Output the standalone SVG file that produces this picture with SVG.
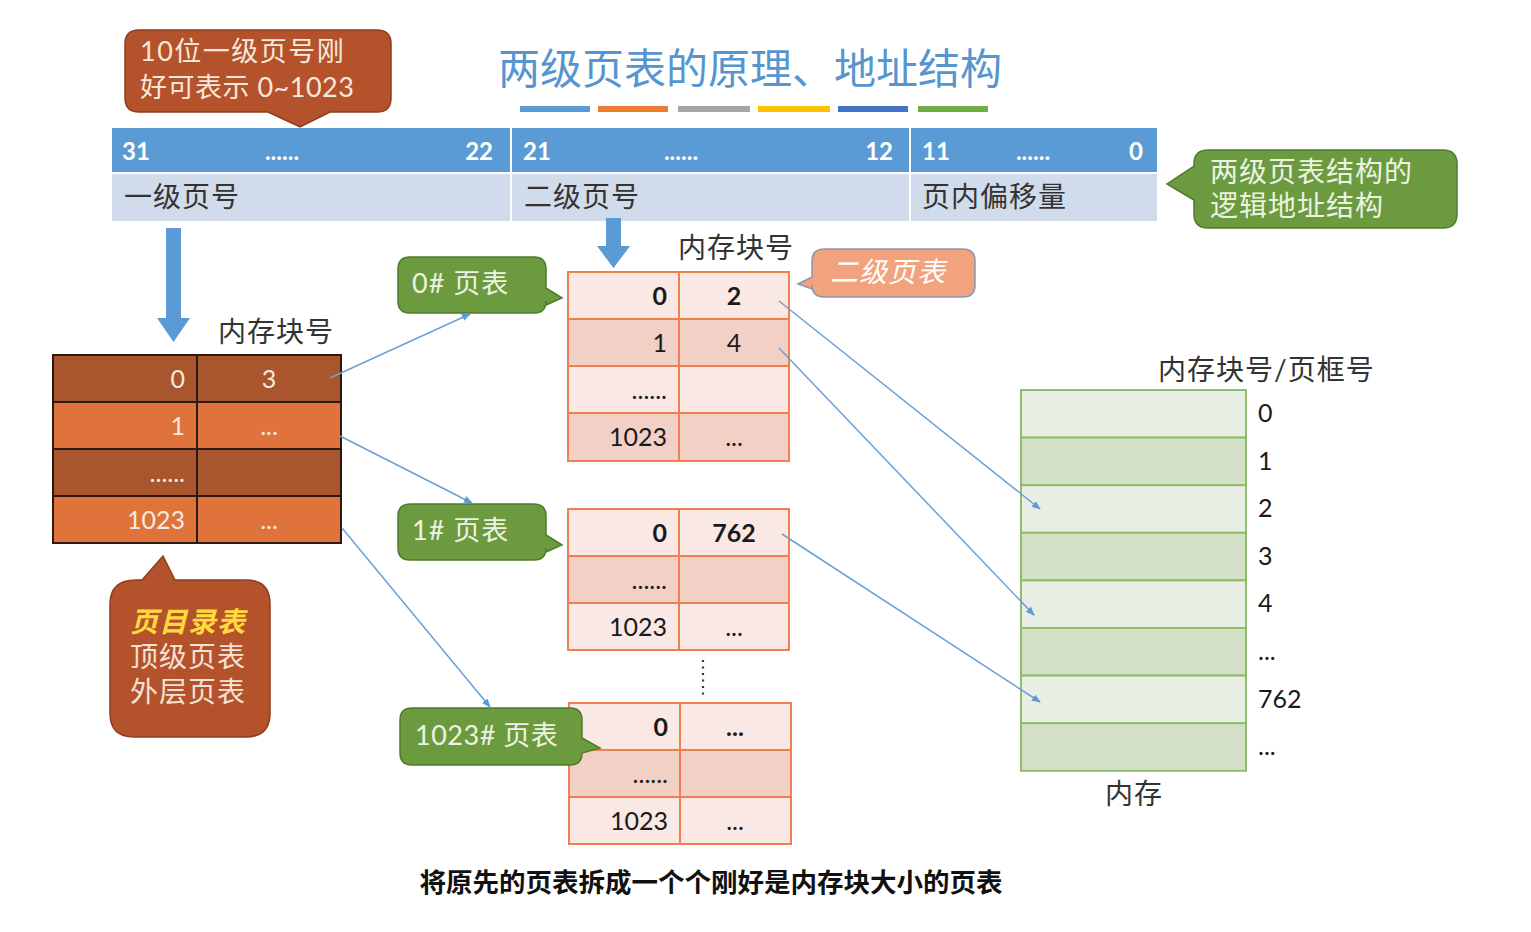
<svg xmlns="http://www.w3.org/2000/svg" width="1531" height="932" viewBox="0 0 1531 932">
<defs>
<style>
.cn{font-family:Lato,"Noto Sans CJK SC",sans-serif;}
.t28{font-size:28px;letter-spacing:1px;}
.num{font-family:Lato,"Noto Sans CJK SC",sans-serif;font-size:25px;}
.hdr{font-family:Lato,"Noto Sans CJK SC",sans-serif;font-size:24px;font-weight:700;fill:#ffffff;}
.lbl{fill:#333333;}
.pd1{fill:#a9552d;stroke:#2b1a10;stroke-width:2;}
.pd2{fill:#e0733b;stroke:#2b1a10;stroke-width:2;}
.pdt{fill:#f6e9df;}
.st1{fill:#f9e8e4;stroke:#f08050;stroke-width:2;}
.st2{fill:#f3d0c6;stroke:#f08050;stroke-width:2;}
.m1{fill:#e9eee4;stroke:#8fbd6b;stroke-width:2;}
.m2{fill:#d5e0c9;stroke:#8fbd6b;stroke-width:2;}
.gbox{fill:#6b9b3e;stroke:#527a2e;stroke-width:1.5;}
.gtxt{fill:#edf3e4;}
.conn{stroke:#6aa0d6;stroke-width:1.5;fill:none;marker-end:url(#ah);}
.dark{fill:#1a1a1a;}
</style>
<marker id="ah" viewBox="0 0 10 10" refX="9" refY="5" markerWidth="9" markerHeight="9" orient="auto" markerUnits="userSpaceOnUse">
<path d="M0,1 L10,5 L0,9 Z" fill="#5b9bd5"/>
</marker>
</defs>
<rect width="1531" height="932" fill="#ffffff"/>

<g id="title">
<text x="750" y="84" text-anchor="middle" class="cn" font-size="42" fill="#5595d0">两级页表的原理、地址结构</text>
<rect x="520" y="106" width="70" height="6" fill="#5b9bd5"/>
<rect x="598" y="106" width="70" height="6" fill="#ed7d31"/>
<rect x="678" y="106" width="72" height="6" fill="#a5a5a5"/>
<rect x="758" y="106" width="72" height="6" fill="#ffc000"/>
<rect x="838" y="106" width="70" height="6" fill="#4472c4"/>
<rect x="918" y="106" width="70" height="6" fill="#70ad47"/>
</g>

<g id="callout-10bit">
<path d="M139,30 H377 Q391,30 391,44 V98 Q391,112 377,112 H330 L300,127 L268,112 H139 Q125,112 125,98 V44 Q125,30 139,30 Z" fill="#b4522b" stroke="#8e3d1e" stroke-width="1.5"/>
<text x="140" y="61" class="cn" font-size="27" letter-spacing="1.5" fill="#f7e8dc">10位一级页号刚</text>
<text x="140" y="97" class="cn" font-size="27" letter-spacing="0.5" fill="#f7e8dc">好可表示 0~1023</text>
</g>

<g id="address-structure">
<rect x="112" y="128" width="1045" height="44" fill="#5b9bd5"/>
<rect x="112" y="174" width="1045" height="47" fill="#d0dbec"/>
<line x1="511" y1="128" x2="511" y2="221" stroke="#ffffff" stroke-width="2"/>
<line x1="910" y1="128" x2="910" y2="221" stroke="#ffffff" stroke-width="2"/>
<line x1="112" y1="173" x2="1157" y2="173" stroke="#ffffff" stroke-width="2"/>
<text x="122" y="160" class="hdr">31</text>
<text x="282" y="160" class="hdr" text-anchor="middle">......</text>
<text x="493" y="160" class="hdr" text-anchor="end">22</text>
<text x="523" y="160" class="hdr">21</text>
<text x="681" y="160" class="hdr" text-anchor="middle">......</text>
<text x="893" y="160" class="hdr" text-anchor="end">12</text>
<text x="922" y="160" class="hdr">11</text>
<text x="1033" y="160" class="hdr" text-anchor="middle">......</text>
<text x="1143" y="160" class="hdr" text-anchor="end">0</text>
<text x="124" y="207" class="cn t28 lbl">一级页号</text>
<text x="524" y="207" class="cn t28 lbl">二级页号</text>
<text x="922" y="207" class="cn t28 lbl">页内偏移量</text>
</g>

<g id="callout-logical">
<path d="M1208,150 H1443 Q1457,150 1457,164 V214 Q1457,228 1443,228 H1208 Q1194,228 1194,214 V200 L1167,184 L1194,166 V164 Q1194,150 1208,150 Z" class="gbox"/>
<text x="1210" y="182" class="cn t28 gtxt">两级页表结构的</text>
<text x="1210" y="216" class="cn t28 gtxt">逻辑地址结构</text>
</g>

<g id="arrow-first">
<path d="M166,228 H181 V318 H190 L173.5,342 L157,318 H166 Z" fill="#5b9bd5"/>
</g>
<g id="arrow-second">
<path d="M606,218 H621 V246 H630 L613.5,268 L597,246 H606 Z" fill="#5b9bd5"/>
</g>

<g id="page-directory">
<text x="218" y="342" class="cn t28 lbl">内存块号</text>
<rect x="53" y="355" width="144" height="47" class="pd1"/>
<rect x="197" y="355" width="144" height="47" class="pd1"/>
<rect x="53" y="402" width="144" height="47" class="pd2"/>
<rect x="197" y="402" width="144" height="47" class="pd2"/>
<rect x="53" y="449" width="144" height="47" class="pd1"/>
<rect x="197" y="449" width="144" height="47" class="pd1"/>
<rect x="53" y="496" width="144" height="47" class="pd2"/>
<rect x="197" y="496" width="144" height="47" class="pd2"/>
<text x="185" y="388" class="num pdt" text-anchor="end">0</text>
<text x="269" y="388" class="num pdt" text-anchor="middle">3</text>
<text x="185" y="435" class="num pdt" text-anchor="end">1</text>
<text x="269" y="435" class="num pdt" text-anchor="middle">...</text>
<text x="185" y="482" class="num pdt" text-anchor="end">......</text>
<text x="185" y="529" class="num pdt" text-anchor="end">1023</text>
<text x="269" y="529" class="num pdt" text-anchor="middle">...</text>
</g>

<g id="callout-directory">
<path d="M136,580 H142 L163,556 L175,580 H246 Q270,580 270,604 V713 Q270,737 246,737 H134 Q110,737 110,713 V604 Q110,580 136,580 Z" fill="#b4522b" stroke="#8e3d1e" stroke-width="1.5"/>
<text x="130" y="632" class="cn t28" font-style="italic" font-weight="700" fill="#ffd93d">页目录表</text>
<text x="130" y="667" class="cn t28" fill="#f4e2d6">顶级页表</text>
<text x="130" y="702" class="cn t28" fill="#f4e2d6">外层页表</text>
</g>

<g id="label-pt0">
<path d="M410,257 H534 Q546,257 546,269 V288 L562,298 L546,305 V301 Q546,313 534,313 H410 Q398,313 398,301 V269 Q398,257 410,257 Z" class="gbox"/>
<text x="412" y="293" class="cn" font-size="27" letter-spacing="1" fill="#edf3e4">0# 页表</text>
</g>
<g id="label-pt1">
<path d="M410,504 H534 Q546,504 546,516 V535 L562,545 L546,552 V548 Q546,560 534,560 H410 Q398,560 398,548 V516 Q398,504 410,504 Z" class="gbox"/>
<text x="412" y="540" class="cn" font-size="27" letter-spacing="1" fill="#edf3e4">1# 页表</text>
</g>

<g id="page-table-0">
<text x="678" y="258" class="cn t28 lbl">内存块号</text>
<rect x="568" y="272" width="111" height="47" class="st1"/>
<rect x="679" y="272" width="110" height="47" class="st1"/>
<rect x="568" y="319" width="111" height="47" class="st2"/>
<rect x="679" y="319" width="110" height="47" class="st2"/>
<rect x="568" y="366" width="111" height="47" class="st1"/>
<rect x="679" y="366" width="110" height="47" class="st1"/>
<rect x="568" y="413" width="111" height="48" class="st2"/>
<rect x="679" y="413" width="110" height="48" class="st2"/>
<text x="667" y="305" class="num dark" font-weight="700" text-anchor="end">0</text>
<text x="734" y="305" class="num dark" font-weight="700" text-anchor="middle">2</text>
<text x="667" y="352" class="num dark" text-anchor="end">1</text>
<text x="734" y="352" class="num dark" text-anchor="middle">4</text>
<text x="667" y="399" class="num dark" text-anchor="end">......</text>
<text x="667" y="446" class="num dark" text-anchor="end">1023</text>
<text x="734" y="446" class="num dark" text-anchor="middle">...</text>
</g>

<g id="callout-second">
<path d="M824,249 H963 Q975,249 975,261 V285 Q975,297 963,297 H824 Q812,297 812,285 V289 L798,284 L812,277 V261 Q812,249 824,249 Z" fill="#f2a27c" stroke="#8898ad" stroke-width="1.5"/>
<text x="830" y="282" class="cn t28" font-style="italic" fill="#ffffff">二级页表</text>
</g>

<g id="page-table-1">
<rect x="568" y="509" width="111" height="47" class="st1"/>
<rect x="679" y="509" width="110" height="47" class="st1"/>
<rect x="568" y="556" width="111" height="47" class="st2"/>
<rect x="679" y="556" width="110" height="47" class="st2"/>
<rect x="568" y="603" width="111" height="47" class="st1"/>
<rect x="679" y="603" width="110" height="47" class="st1"/>
<text x="667" y="542" class="num dark" font-weight="700" text-anchor="end">0</text>
<text x="734" y="542" class="num dark" font-weight="700" text-anchor="middle">762</text>
<text x="667" y="589" class="num dark" text-anchor="end">......</text>
<text x="667" y="636" class="num dark" text-anchor="end">1023</text>
<text x="734" y="636" class="num dark" text-anchor="middle">...</text>
</g>

<g id="vertical-dots">
<line x1="703" y1="660" x2="703" y2="695" stroke="#333333" stroke-width="2.2" stroke-dasharray="2 4.5" stroke-linecap="butt"/>
</g>

<g id="page-table-1023">
<rect x="569" y="703" width="111" height="47" class="st1"/>
<rect x="680" y="703" width="111" height="47" class="st1"/>
<rect x="569" y="750" width="111" height="47" class="st2"/>
<rect x="680" y="750" width="111" height="47" class="st2"/>
<rect x="569" y="797" width="111" height="47" class="st1"/>
<rect x="680" y="797" width="111" height="47" class="st1"/>
<text x="668" y="736" class="num dark" font-weight="700" text-anchor="end">0</text>
<text x="735" y="736" class="num dark" font-weight="700" text-anchor="middle">...</text>
<text x="668" y="783" class="num dark" text-anchor="end">......</text>
<text x="668" y="830" class="num dark" text-anchor="end">1023</text>
<text x="735" y="830" class="num dark" text-anchor="middle">...</text>
</g>

<g id="label-pt1023">
<path d="M412,708 H570 Q582,708 582,720 V738 L600,748 L582,753 V753 Q582,765 570,765 H412 Q400,765 400,753 V720 Q400,708 412,708 Z" class="gbox"/>
<text x="415" y="745" class="cn" font-size="27" letter-spacing="0.5" fill="#edf3e4">1023# 页表</text>
</g>

<g id="memory">
<text x="1158" y="380" class="cn t28 lbl">内存块号/页框号</text>
<rect x="1021" y="390" width="225" height="47.6" class="m1"/>
<rect x="1021" y="437.6" width="225" height="47.6" class="m2"/>
<rect x="1021" y="485.2" width="225" height="47.6" class="m1"/>
<rect x="1021" y="532.8" width="225" height="47.6" class="m2"/>
<rect x="1021" y="580.4" width="225" height="47.6" class="m1"/>
<rect x="1021" y="628" width="225" height="47.6" class="m2"/>
<rect x="1021" y="675.6" width="225" height="47.6" class="m1"/>
<rect x="1021" y="723.2" width="225" height="47.6" class="m2"/>
<text x="1258" y="422" class="num dark">0</text>
<text x="1258" y="470" class="num dark">1</text>
<text x="1258" y="517" class="num dark">2</text>
<text x="1258" y="565" class="num dark">3</text>
<text x="1258" y="612" class="num dark">4</text>
<text x="1258" y="660" class="num dark">...</text>
<text x="1258" y="708" class="num dark">762</text>
<text x="1258" y="755" class="num dark">...</text>
<text x="1134" y="804" class="cn t28 lbl" text-anchor="middle">内存</text>
</g>

<g id="connectors">
<line x1="330" y1="378" x2="470" y2="314" class="conn"/>
<line x1="340" y1="436" x2="472" y2="503" class="conn"/>
<line x1="342" y1="528" x2="490" y2="707" class="conn"/>
<line x1="779" y1="301" x2="1040" y2="509" class="conn"/>
<line x1="779" y1="348" x2="1034" y2="615" class="conn"/>
<line x1="782" y1="534" x2="1040" y2="702" class="conn"/>
</g>

<g id="caption">
<text x="711" y="892" text-anchor="middle" class="cn" font-size="26.5" font-weight="700" fill="#111111">将原先的页表拆成一个个刚好是内存块大小的页表</text>
</g>
</svg>
